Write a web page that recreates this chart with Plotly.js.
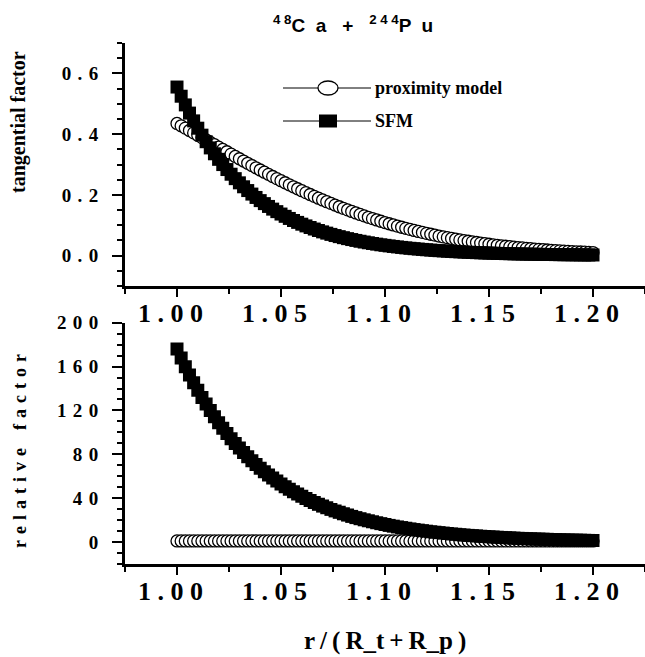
<!DOCTYPE html>
<html>
<head>
<meta charset="utf-8">
<script src="https://cdn.plot.ly/plotly-3.0.1.min.js"></script>
<style>html,body{margin:0;padding:0;background:#fff;}#chart{width:645px;height:657px;}</style>
</head>
<body>
<div id="chart"></div>
<script>
// r/(R_t+R_p)
const xVals = [1.000,1.002,1.004,1.006,1.008,1.010,1.012,1.014,1.016,1.018,
1.020,1.022,1.024,1.026,1.028,1.030,1.032,1.034,1.036,1.038,
1.040,1.042,1.044,1.046,1.048,1.050,1.052,1.054,1.056,1.058,
1.060,1.062,1.064,1.066,1.068,1.070,1.072,1.074,1.076,1.078,
1.080,1.082,1.084,1.086,1.088,1.090,1.092,1.094,1.096,1.098,
1.100,1.102,1.104,1.106,1.108,1.110,1.112,1.114,1.116,1.118,
1.120,1.122,1.124,1.126,1.128,1.130,1.132,1.134,1.136,1.138,
1.140,1.142,1.144,1.146,1.148,1.150,1.152,1.154,1.156,1.158,
1.160,1.162,1.164,1.166,1.168,1.170,1.172,1.174,1.176,1.178,
1.180,1.182,1.184,1.186,1.188,1.190,1.192,1.194,1.196,1.198,
1.200];

// tangential factor, proximity model
const proxTangential = [0.4352,0.4274,0.4197,0.4119,0.4041,0.3963,0.3885,0.3806,0.3729,0.3651,
0.3573,0.3496,0.3419,0.3342,0.3265,0.3189,0.3114,0.3039,0.2965,0.2892,
0.2819,0.2747,0.2676,0.2605,0.2535,0.2467,0.2399,0.2332,0.2266,0.2201,
0.2137,0.2074,0.2012,0.1951,0.1891,0.1833,0.1775,0.1719,0.1664,0.1609,
0.1556,0.1505,0.1454,0.1404,0.1356,0.1309,0.1262,0.1217,0.1174,0.1131,
0.1089,0.1049,0.1009,0.0971,0.0934,0.0898,0.0863,0.0829,0.0796,0.0764,
0.0733,0.0703,0.0674,0.0645,0.0618,0.0592,0.0566,0.0542,0.0518,0.0495,
0.0473,0.0452,0.0432,0.0412,0.0393,0.0375,0.0357,0.0340,0.0324,0.0309,
0.0294,0.0280,0.0266,0.0253,0.0240,0.0228,0.0217,0.0206,0.0195,0.0185,
0.0175,0.0166,0.0157,0.0149,0.0141,0.0133,0.0126,0.0119,0.0113,0.0106,
0.0101];

// tangential factor, SFM
const sfmTangential = [0.5550,0.5248,0.4962,0.4692,0.4436,0.4195,0.3966,0.3750,0.3546,0.3353,
0.3170,0.2998,0.2834,0.2680,0.2534,0.2396,0.2266,0.2142,0.2026,0.1915,
0.1811,0.1712,0.1619,0.1531,0.1448,0.1369,0.1294,0.1224,0.1157,0.1094,
0.1035,0.0978,0.0925,0.0875,0.0827,0.0782,0.0740,0.0699,0.0661,0.0625,
0.0591,0.0559,0.0529,0.0500,0.0473,0.0447,0.0423,0.0400,0.0378,0.0357,
0.0338,0.0320,0.0302,0.0286,0.0270,0.0255,0.0241,0.0228,0.0216,0.0204,
0.0193,0.0182,0.0172,0.0163,0.0154,0.0146,0.0138,0.0130,0.0123,0.0117,
0.0110,0.0104,0.0098,0.0093,0.0088,0.0083,0.0079,0.0074,0.0070,0.0066,
0.0063,0.0059,0.0056,0.0053,0.0050,0.0047,0.0045,0.0042,0.0040,0.0038,
0.0036,0.0034,0.0032,0.0030,0.0029,0.0027,0.0026,0.0024,0.0023,0.0022,
0.0021];

// relative factor, proximity model
const proxRelative = [1,1,1,1,1,1,1,1,1,1,
1,1,1,1,1,1,1,1,1,1,
1,1,1,1,1,1,1,1,1,1,
1,1,1,1,1,1,1,1,1,1,
1,1,1,1,1,1,1,1,1,1,
1,1,1,1,1,1,1,1,1,1,
1,1,1,1,1,1,1,1,1,1,
1,1,1,1,1,1,1,1,1,1,
1,1,1,1,1,1,1,1,1,1,
1,1,1,1,1,1,1,1,1,1,
1];

// relative factor, SFM
const sfmRelative = [176.0,167.8,159.9,152.4,145.2,138.4,131.9,125.8,119.9,114.2,
108.9,103.8,98.9,94.3,89.9,85.7,81.6,77.8,74.2,70.7,
67.4,64.2,61.2,58.4,55.6,53.0,50.5,48.2,45.9,43.8,
41.7,39.8,37.9,36.1,34.4,32.8,31.3,29.8,28.4,27.1,
25.8,24.6,23.4,22.3,21.3,20.3,19.4,18.5,17.6,16.8,
16.0,15.2,14.5,13.8,13.2,12.6,12.0,11.4,10.9,10.4,
9.9,9.4,9.0,8.6,8.2,7.8,7.4,7.1,6.7,6.4,
6.1,5.8,5.6,5.3,5.1,4.8,4.6,4.4,4.2,4.0,
3.8,3.6,3.4,3.3,3.1,3.0,2.8,2.7,2.6,2.5,
2.3,2.2,2.1,2.0,1.9,1.8,1.75,1.67,1.6,1.5,
1.45];

const sp = '\u2004';
const tr = '\u2002';
const xTickVals = [1.00, 1.05, 1.10, 1.15, 1.20];
const xTickText = ['1 . 0 0'+tr, '1 . 0 5'+tr, '1 . 1 0'+tr, '1 . 1 5'+tr, '1 . 2 0'+tr];
const yTopTickVals = [0.0, 0.2, 0.4, 0.6];
const yTopTickText = ['0'+sp+'.'+sp+'0', '0'+sp+'.'+sp+'2', '0'+sp+'.'+sp+'4', '0'+sp+'.'+sp+'6'];
const yBotTickVals = [0, 40, 80, 120, 160, 200];
const yBotTickText = ['0', '4'+sp+'0', '8'+sp+'0', '1'+sp+'2'+sp+'0', '1'+sp+'6'+sp+'0', '2'+sp+'0'+sp+'0'];
const seriesNames = ['proximity model', 'SFM'];

const serif = 'Liberation Serif, Times New Roman, serif';
const black = '#000';

const circMarker = {symbol: 'circle', size: 12, color: '#fff', line: {color: black, width: 1.3}};
const sqMarker = {symbol: 'square', size: 13, color: black, line: {color: black, width: 0}};

const traces = [
  {x: xVals, y: proxTangential, xaxis: 'x', yaxis: 'y', mode: 'lines+markers', name: seriesNames[0],
   line: {color: black, width: 1}, marker: circMarker, showlegend: false},
  {x: xVals, y: sfmTangential, xaxis: 'x', yaxis: 'y', mode: 'lines+markers', name: seriesNames[1],
   line: {color: black, width: 1}, marker: sqMarker, showlegend: false},
  {x: xVals, y: proxRelative, xaxis: 'x2', yaxis: 'y2', mode: 'lines+markers', name: seriesNames[0],
   line: {color: black, width: 1}, marker: circMarker, showlegend: false},
  {x: xVals, y: sfmRelative, xaxis: 'x2', yaxis: 'y2', mode: 'lines+markers', name: seriesNames[1],
   line: {color: black, width: 1}, marker: sqMarker, showlegend: false}
];

function xAxis(anchor) {
  return {
    anchor: anchor, domain: [0, 1], range: [0.975, 1.225],
    tickmode: 'array', tickvals: xTickVals, ticktext: xTickText,
    ticks: 'outside', ticklen: 8, tickwidth: 2, tickcolor: black,
    ticklabelstandoff: -6,
    minor: {ticks: 'outside', tickmode: 'linear', tick0: 0.975, dtick: 0.025, ticklen: 5, tickwidth: 2, tickcolor: black},
    showline: true, linewidth: 3, linecolor: black, mirror: false,
    showgrid: false, zeroline: false,
    tickfont: {family: serif, size: 26, color: black, weight: 'bold'}
  };
}
function yAxis(anchor, domain, range, vals, text, minorDt) {
  return {
    anchor: anchor, domain: domain, range: range,
    tickmode: 'array', tickvals: vals, ticktext: text,
    ticks: 'outside', ticklen: 10, tickwidth: 2, tickcolor: black,
    ticklabelstandoff: 10,
    minor: {ticks: 'outside', tickmode: 'linear', tick0: 0, dtick: minorDt, ticklen: 5, tickwidth: 2, tickcolor: black},
    showline: true, linewidth: 3, linecolor: black,
    showgrid: false, zeroline: false,
    tickfont: {family: serif, size: 19, color: black, weight: 'bold'}
  };
}
// unlabeled long ticks between the labelled ones
function yTickOverlay(anchor, over, range, t0, dt) {
  return {
    anchor: anchor, overlaying: over, range: range,
    tickmode: 'linear', tick0: t0, dtick: dt,
    ticks: 'outside', ticklen: 10, tickwidth: 2, tickcolor: black,
    showticklabels: false, showline: false, showgrid: false, zeroline: false
  };
}

// pixel helpers for the overlay (plot area: x 125..645, y 43..564)
const px = p => (p - 125) / 520;
const py = p => (564 - p) / 521;

const layout = {
  width: 645, height: 657,
  margin: {l: 125, r: 0, t: 43, b: 93, pad: 0},
  paper_bgcolor: '#fff', plot_bgcolor: '#fff',
  showlegend: false,
  xaxis: xAxis('y'),
  yaxis: yAxis('x', [0.5336, 1], [-0.1, 0.7], yTopTickVals, yTopTickText, 0.05),
  yaxis3: yTickOverlay('x', 'y', [-0.1, 0.7], -0.1, 0.1),
  xaxis2: xAxis('y2'),
  yaxis2: yAxis('x2', [0, 0.4631], [-20, 200], yBotTickVals, yBotTickText, 10),
  yaxis4: yTickOverlay('x2', 'y2', [-20, 200], -20, 20),
  shapes: [
    {type: 'line', xref: 'paper', yref: 'paper', x0: px(283), x1: px(371), y0: py(88), y1: py(88), line: {color: black, width: 1}, layer: 'above'},
    {type: 'circle', xref: 'paper', yref: 'paper', x0: px(318), x1: px(338), y0: py(95), y1: py(81), fillcolor: '#fff', line: {color: black, width: 1.3}, layer: 'above'},
    {type: 'line', xref: 'paper', yref: 'paper', x0: px(283), x1: px(371), y0: py(121), y1: py(121), line: {color: black, width: 1}, layer: 'above'},
    {type: 'rect', xref: 'paper', yref: 'paper', x0: px(319), x1: px(337), y0: py(127.5), y1: py(114.5), fillcolor: black, line: {color: black, width: 0}, layer: 'above'}
  ],
  annotations: [
    {xref: 'paper', yref: 'paper', x: px(373), y: py(88), xanchor: 'left', yanchor: 'middle', showarrow: false,
     text: seriesNames[0], font: {family: serif, size: 18, color: black, weight: 'bold'}},
    {xref: 'paper', yref: 'paper', x: px(373), y: py(121), xanchor: 'left', yanchor: 'middle', showarrow: false,
     text: seriesNames[1], font: {family: serif, size: 18, color: black, weight: 'bold'}},
    {xref: 'paper', yref: 'paper', x: px(353), y: py(24), xanchor: 'center', yanchor: 'middle', showarrow: false,
     text: '<sup>4 8</sup>C  a   +   <sup>2 4 4</sup>P  u',
     font: {family: 'Liberation Sans Narrow, Liberation Sans, Arial, sans-serif', size: 19, color: black, weight: 'bold'}},
    {xref: 'paper', yref: 'paper', x: px(385), y: py(641), xanchor: 'center', yanchor: 'middle', showarrow: false,
     text: 'r\u2009/\u2009(\u2009R_t\u2009+\u2009R_p\u2009)',
     font: {family: serif, size: 25, color: black, weight: 'bold'}},
    {xref: 'paper', yref: 'paper', x: px(18), y: py(122), xanchor: 'center', yanchor: 'middle', showarrow: false, textangle: -90,
     text: 'tangential factor', font: {family: serif, size: 20, color: black, weight: 'bold'}},
    {xref: 'paper', yref: 'paper', x: px(20), y: py(451), xanchor: 'center', yanchor: 'middle', showarrow: false, textangle: -90,
     text: ['r','e','l','a','t','i','v','e'].join(sp) + tr + tr + ['f','a','c','t','o','r'].join(sp),
     font: {family: serif, size: 18, color: black, weight: 'bold'}}
  ]
};

Plotly.newPlot('chart', traces, layout, {displayModeBar: false, staticPlot: true});
</script>
</body>
</html>
